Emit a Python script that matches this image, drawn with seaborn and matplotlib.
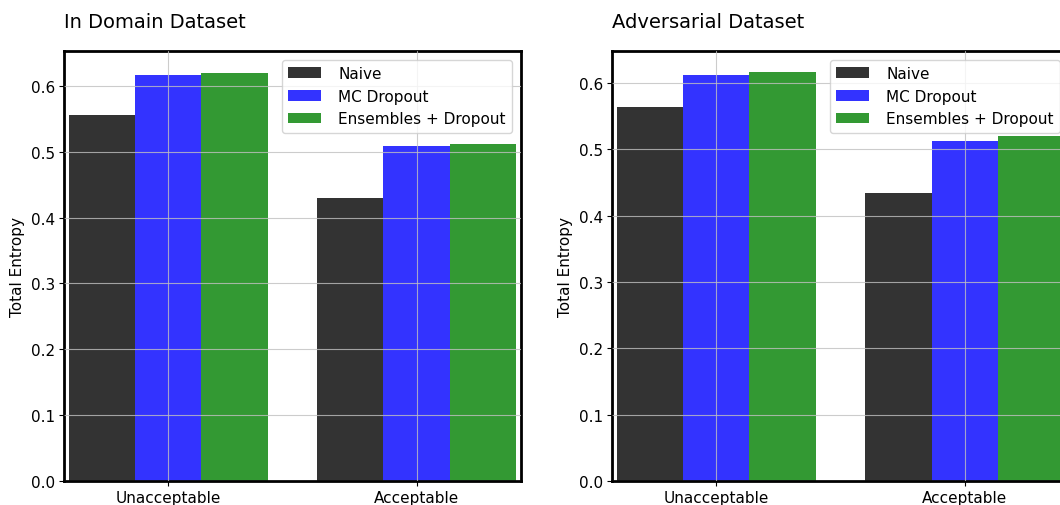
import pandas as pd
import matplotlib
matplotlib.use("Agg")
import matplotlib.pyplot as plt
import seaborn as sns

classes = ["Unacceptable", "Acceptable"]
methods = ["Naive", "MC Dropout", "Ensembles + Dropout"]
colors = ["black", "blue", "green"]

in_domain = {
    "Naive": [0.555, 0.430],
    "MC Dropout": [0.617, 0.508],
    "Ensembles + Dropout": [0.620, 0.512],
}
adversarial = {
    "Naive": [0.563, 0.434],
    "MC Dropout": [0.612, 0.513],
    "Ensembles + Dropout": [0.616, 0.520],
}


def to_frame(values):
    rows = []
    for m in methods:
        for c, v in zip(classes, values[m]):
            rows.append({"class": c, "method": m, "entropy": v})
    return pd.DataFrame(rows)


sns.set_theme(style="whitegrid")
plt.rcParams["font.family"] = ["DejaVu Sans"]
plt.rcParams["text.color"] = "black"
plt.rcParams["axes.labelcolor"] = "black"
plt.rcParams["xtick.color"] = "black"
plt.rcParams["ytick.color"] = "black"

fig = plt.figure(figsize=(10.6, 5.06), dpi=100)
ax1 = fig.add_axes([0.0604, 0.0474, 0.431, 0.85])
ax2 = fig.add_axes([0.5774, 0.0474, 0.431, 0.85])


def draw(ax, values, title, ytop):
    df = to_frame(values)
    sns.barplot(data=df, x="class", y="entropy", hue="method",
                hue_order=methods, order=classes, palette=colors,
                saturation=1, alpha=0.8, ax=ax, linewidth=0, errorbar=None)
    ax.set_xlim(-0.42, 1.42)
    ax.set_ylim(0, ytop)
    ax.set_yticks([0.0, 0.1, 0.2, 0.3, 0.4, 0.5, 0.6])
    ax.set_xlabel("")
    ax.set_ylabel("Total Entropy", fontsize=11)
    ax.set_title(title, loc="left", fontsize=14, pad=17)
    ax.set_axisbelow(False)
    ax.grid(True, color="#c0c0c0", linewidth=0.8, alpha=0.8)
    for s in ax.spines.values():
        s.set_color("black")
        s.set_linewidth(2)
    ax.tick_params(axis="both", labelsize=11, length=3.5, width=0.8,
                   left=True, bottom=True, pad=3)
    ax.legend(loc="upper right", fontsize=11, frameon=True,
              borderaxespad=0.6, handlelength=2.2, handletextpad=1.1)


draw(ax1, in_domain, "In Domain Dataset", 0.653)
draw(ax2, adversarial, "Adversarial Dataset", 0.648)

fig.savefig("out.png", dpi=100)
